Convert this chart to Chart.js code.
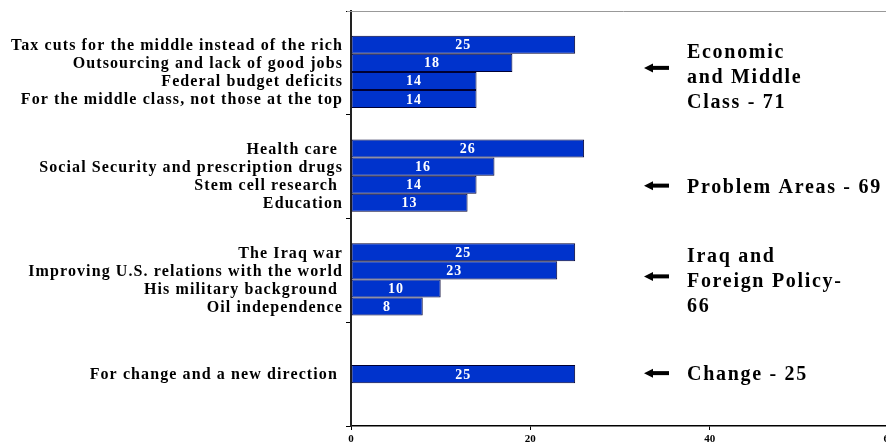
<!DOCTYPE html>
<html>
<head>
<meta charset="utf-8">
<script src="https://cdn.jsdelivr.net/npm/chart.js@4.4.0/dist/chart.umd.min.js"></script>
<style>
  html, body { margin: 0; padding: 0; background: #fff; overflow: hidden; }
  #wrap { width: 900px; height: 447px; position: relative; }
</style>
</head>
<body>
<div id="wrap"><canvas id="reasonsChart"></canvas></div>
<script>
// Groups (one y category each) and their totals
var groups = ['Economic and Middle Class', 'Problem Areas', 'Iraq and Foreign Policy', 'Change'];
var groupTotals = [71, 69, 66, 25];

// Economic and middle class
var econLabels = [
  'Tax cuts for the middle instead of the rich',
  'Outsourcing and lack of good jobs',
  'Federal budget deficits',
  'For the middle class, not those at the top'
];
var econValues = [25, 18, 14, 14];

// Problem areas
var problemLabels = [
  'Health care ',
  'Social Security and prescription drugs',
  'Stem cell research ',
  'Education'
];
var problemValues = [26, 16, 14, 13];

// Iraq and foreign policy
var iraqLabels = [
  'The Iraq war',
  'Improving U.S. relations with the world',
  'His military background ',
  'Oil independence'
];
var iraqValues = [25, 23, 10, 8];

// Change (sits in the second slot of its group)
var changeLabels = ['', 'For change and a new direction ', '', ''];
var changeValues = [null, 25, null, null];

var xTicks = [0, 20, 40, 60];

var groupLabels = [econLabels, problemLabels, iraqLabels, changeLabels];
var groupValues = [econValues, problemValues, iraqValues, changeValues];

var serif = "'Liberation Serif', 'Times New Roman', serif";

// one dataset per slot; slot 0 stays empty like in the original chart
var datasets = [];
for (var slot = 0; slot < 5; slot++) {
  datasets.push({
    label: 'slot ' + slot,
    data: groupValues.map(function (v) { return slot === 0 ? null : v[slot - 1]; }),
    rowLabels: groupLabels.map(function (l) { return slot === 0 ? '' : l[slot - 1]; }),
    backgroundColor: '#0033cc',
    borderColor: '#000033',
    borderWidth: 1,
    borderSkipped: false,
    barPercentage: 1,
    categoryPercentage: 0.868
  });
}

// row labels on the left and values inside the bars
var barText = {
  id: 'barText',
  afterDatasetsDraw: function (chart) {
    var ctx = chart.ctx, area = chart.chartArea;
    ctx.save();
    ctx.textBaseline = 'middle';
    chart.data.datasets.forEach(function (ds, di) {
      var meta = chart.getDatasetMeta(di);
      meta.data.forEach(function (bar, i) {
        var v = ds.data[i];
        if (v == null) return;
        ctx.font = 'bold 16px ' + serif;
        ctx.letterSpacing = '1.1px';
        ctx.fillStyle = '#000';
        ctx.textAlign = 'right';
        ctx.fillText(ds.rowLabels[i], area.left - 8, bar.y + 1);
        ctx.font = 'bold 14px ' + serif;
        ctx.letterSpacing = '1px';
        ctx.fillStyle = '#fff';
        ctx.textAlign = 'center';
        ctx.fillText(String(v), (bar.base + bar.x) / 2, bar.y + 1);
      });
    });
    ctx.restore();
  }
};

// group notes with arrows on the right, plus the grey top edge
var groupNotes = {
  id: 'groupNotes',
  afterDraw: function (chart, args, opts) {
    var ctx = chart.ctx, area = chart.chartArea, y = chart.scales.y;
    ctx.save();
    ctx.strokeStyle = '#999';
    ctx.lineWidth = 1;
    ctx.beginPath();
    ctx.moveTo(area.left - 4, area.top + 0.5);
    ctx.lineTo(chart.width, area.top + 0.5);
    ctx.stroke();

    var notes = [
      ['Economic', 'and Middle', 'Class - ' + groupTotals[0]],
      ['Problem Areas - ' + groupTotals[1]],
      ['Iraq and', 'Foreign Policy-', String(groupTotals[2])],
      ['Change - ' + groupTotals[3]]
    ];
    ctx.fillStyle = '#000';
    ctx.font = 'bold 20px ' + serif;
    ctx.letterSpacing = '1.7px';
    ctx.textAlign = 'left';
    ctx.textBaseline = 'middle';
    notes.forEach(function (lines, g) {
      var c = y.getPixelForValue(g);
      var ay = c + opts.arrowDy[g];
      var tip = area.left + 293, tail = area.left + 318;
      ctx.fillRect(tip + 7, ay - 2, tail - tip - 7, 4);
      ctx.beginPath();
      ctx.moveTo(tip, ay);
      ctx.lineTo(tip + 9, ay - 4.5);
      ctx.lineTo(tip + 9, ay + 4.5);
      ctx.closePath();
      ctx.fill();
      var mid = c + opts.textDy[g];
      var top = mid - (lines.length - 1) * 12.5;
      lines.forEach(function (t, k) {
        ctx.fillText(t, area.left + 336, top + k * 25);
      });
    });
    ctx.restore();
  }
};

var ctx = document.getElementById('reasonsChart').getContext('2d');
var chartReasons = new Chart(ctx, {
  type: 'bar',
  data: {
    labels: groups,
    datasets: datasets
  },
  options: {
    indexAxis: 'y',
    responsive: true,
    maintainAspectRatio: false,
    animation: false,
    layout: { padding: { top: 11, right: 11, bottom: 0, left: 0 } },
    plugins: {
      legend: { display: false },
      tooltip: { enabled: false },
      groupNotes: { arrowDy: [5, 19, 6, -1], textDy: [15, 21, 11, 1] }
    },
    scales: {
      x: {
        type: 'linear',
        min: 0,
        max: 60,
        afterBuildTicks: function (scale) {
          scale.ticks = xTicks.map(function (v) { return { value: v }; });
        },
        afterFit: function (scale) { scale.height = 21; },
        ticks: { color: '#000', padding: 3, font: { family: serif, size: 11, weight: 'bold' } },
        grid: { drawOnChartArea: false, tickLength: 4, color: '#000' },
        border: { color: '#000', width: 1.5 }
      },
      y: {
        type: 'category',
        afterFit: function (scale) { scale.width = 351; },
        ticks: { display: false },
        grid: { drawOnChartArea: false, tickLength: 5, color: '#000', offset: true },
        border: { color: '#222', width: 2 }
      }
    }
  },
  plugins: [barText, groupNotes]
});
</script>
</body>
</html>
